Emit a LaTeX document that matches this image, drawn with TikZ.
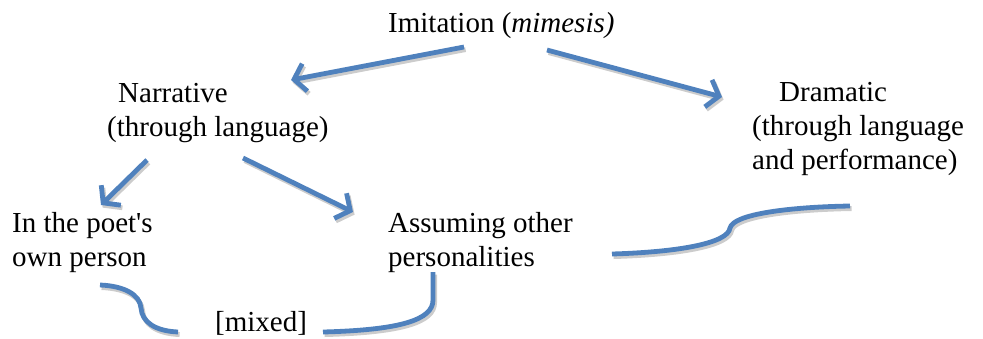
\documentclass[tikz,border=0pt]{standalone}
\usepackage{fontspec}
\setmainfont{Liberation Serif}
\usetikzlibrary{arrows.meta}
\definecolor{linkblue}{HTML}{4F81BD}

\begin{document}
\begin{tikzpicture}[
  x=1pt, y=-1pt,
  every node/.style={inner sep=0pt, anchor=base west, align=left,
    font=\fontsize{29}{34}\selectfont},
  tip/.style={-{Straight Barb[length=11pt,width=28pt]}},
  link/.style={draw=linkblue, line width=4.8pt,
    preaction={draw=black!20, line width=4.8pt,
      transform canvas={shift={(1.6pt,-2.6pt)}}}},
  arr/.style={draw=linkblue, line width=4.8pt, tip,
    preaction={draw=black!20, line width=4.8pt, tip,
      transform canvas={shift={(1.6pt,-2.6pt)}}}},
  ]
  \useasboundingbox (0,0) rectangle (983,338);

  \node (imit) at (388,32) {Imitation (\textit{mimesis)}};
  \node (narr) at (107,136) {\hspace*{11pt}Narrative\\(through language)};
  \node (dram) at (752,169) {\hspace*{27pt}Dramatic\\(through language\\and performance)};
  \node (poet) at (12,266) {In the poet\textquotesingle s\\own person};
  \node (assum) at (388,266) {Assuming other\\personalities};
  \node (mixed) at (215,331) {[mixed]};

  \coordinate (poetend) at (100,285);
  \coordinate (mixedleft) at (178,332);
  \coordinate (mixedright) at (323,332);
  \coordinate (assumend) at (433,272);
  \coordinate (assumright) at (612,254);
  \coordinate (dramend) at (850,206);

  \draw [arr] ([shift={(76pt,-15pt)}]imit.base west) -- ([shift={(184pt,56pt)}]narr.base west);
  \draw [arr] ([shift={(159pt,-18pt)}]imit.base west) -- ([shift={(-30pt,72pt)}]dram.base west);
  \draw [arr] ([shift={(40pt,-24pt)}]narr.base west) -- ([shift={(89pt,61pt)}]poet.base west);
  \draw [arr] ([shift={(136pt,-22pt)}]narr.base west) -- ([shift={(-35pt,54pt)}]assum.base west);

  \draw [link] (poetend) .. controls (125,286) and (140,295) .. (141,308)
    .. controls (142,322) and (155,331) .. (mixedleft);
  \draw [link] (mixedright) .. controls (400,330) and (433,320) .. (433,300) -- (assumend);
  \draw [link] (assumright) .. controls (680,252) and (728,243) .. (730,228)
    .. controls (733,214) and (790,207) .. (dramend);
\end{tikzpicture}
\end{document}
